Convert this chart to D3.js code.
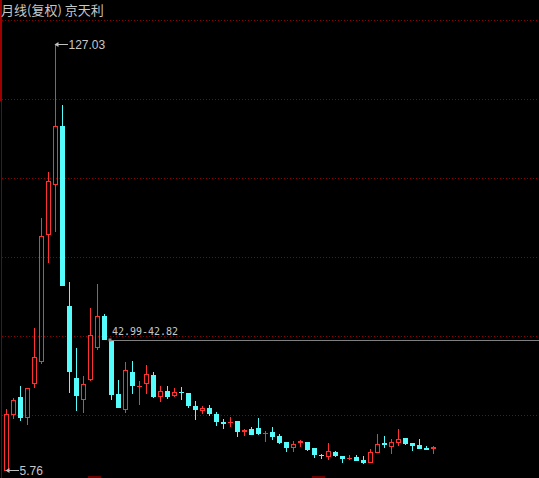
<!DOCTYPE html>
<html>
<head>
<meta charset="utf-8">
<script src="https://cdn.jsdelivr.net/npm/d3@7/dist/d3.min.js"></script>
<style>
  html, body { margin: 0; padding: 0; background: #000; overflow: hidden; }
  svg { display: block; }
</style>
</head>
<body>
<svg width="539" height="478"></svg>
<script>
// monthly candles, 京天利 (复权)
var opens  = [5.90, 21.77, 26.52, 20.83, 30.58, 36.84, 72.87, 87.09, 103.58, 52.40,
              31.92, 26.03, 31.64, 40.74, 49.55, 42.82, 27.37, 23.19, 33.63, 29.56,
              30.58, 32.77, 26.89, 28.31, 27.17, 28.03, 27.74, 23.96, 22.96, 23.48,
              21.77, 19.27, 19.30, 19.69, 16.71, 17.42, 17.70, 16.22, 16.57, 15.51,
              13.72, 12.30, 13.72, 13.72, 12.02, 10.00, 9.83, 10.88, 9.83, 9.17,
              9.54, 8.69, 8.12, 10.96, 13.30, 12.67, 13.81, 14.94, 13.52, 12.95,
              12.02, 12.05];
var highs  = [23.39, 26.52, 29.93, 29.20, 46.42, 77.70, 90.78, 127.03, 109.84, 59.50,
              40.74, 32.77, 52.11, 58.94, 50.40, 42.82, 31.64, 36.76, 37.04, 31.35,
              35.90, 33.91, 29.93, 29.93, 29.45, 29.73, 28.03, 25.75, 24.33, 24.61,
              22.62, 20.63, 21.20, 19.89, 17.79, 18.36, 20.92, 17.13, 18.27, 16.37,
              14.09, 14.29, 14.66, 14.00, 12.30, 10.68, 13.72, 11.45, 10.11, 10.31,
              10.31, 10.03, 12.10, 16.37, 15.80, 14.94, 17.79, 15.23, 13.52, 14.94,
              12.95, 12.95];
var lows   = [5.76, 20.63, 20.06, 18.84, 29.45, 36.19, 64.91, 73.72, 58.37, 27.94,
              22.82, 22.25, 31.35, 40.17, 42.99, 25.95, 23.76, 22.34, 27.74, 24.61,
              27.74, 26.43, 25.47, 26.32, 26.89, 26.03, 23.76, 20.35, 22.05, 21.49,
              18.64, 17.79, 18.36, 15.51, 15.80, 16.00, 16.08, 14.09, 14.66, 13.52,
              11.25, 11.25, 12.67, 11.53, 9.54, 9.26, 8.97, 9.83, 8.12, 8.89,
              8.69, 7.84, 8.12, 10.96, 12.39, 10.68, 12.95, 13.24, 11.53, 12.10,
              11.85, 10.68];
var closes = [21.68, 25.67, 20.83, 29.08, 37.89, 72.30, 87.94, 103.58, 58.37, 33.91,
              27.17, 30.21, 44.15, 49.55, 42.99, 27.37, 23.76, 34.20, 30.02, 29.70,
              33.06, 26.89, 28.31, 26.89, 28.03, 27.95, 24.33, 23.19, 23.39, 22.05,
              19.78, 19.20, 19.45, 16.94, 17.13, 16.08, 16.37, 16.42, 15.51, 13.81,
              12.39, 13.15, 14.00, 11.82, 10.40, 9.92, 11.16, 10.11, 9.26, 9.31,
              8.69, 8.12, 10.88, 13.24, 13.18, 13.81, 14.58, 13.52, 12.95, 12.10,
              11.85, 12.21];

var title = "月线(复权) 京天利";
var gapFrom = 14;            // gap between candle 14 close and candle 15 open
var axisMarks = [12.5, 44.5]; // partial time-axis marks at the bottom edge

var upColor = "#ff3232",
    downColor = "#54fcfc",
    gridColor = "#8c0000",
    textColor = "#c8c8c8";

var svg = d3.select("svg"),
    width = +svg.attr("width"),
    height = +svg.attr("height");

var data = opens.map(function (o, i) {
    return {i: i, o: o, h: highs[i], l: lows[i], c: closes[i]};
});

var x = d3.scaleLinear().domain([0, data.length - 1]).range([6.5, 6.5 + 7 * (data.length - 1)]);
var y = d3.scaleLinear()
    .domain([d3.min(lows), d3.max(highs)])
    .range([470, 43.5]);

svg.append("rect").attr("width", width).attr("height", height).attr("fill", "#000");

// grid rows
var gridTop = 20, gridStep = 79;
svg.append("g").selectAll("line")
    .data(d3.range(6))
    .enter().append("line")
    .attr("x1", 2).attr("x2", width)
    .attr("y1", function (d) { return gridTop + d * gridStep + 0.5; })
    .attr("y2", function (d) { return gridTop + d * gridStep + 0.5; })
    .attr("stroke", gridColor)
    .attr("stroke-dasharray", "1,2");

// left border
svg.append("rect").attr("x", 0).attr("y", 0).attr("width", 2).attr("height", 101).attr("fill", "#a00000");
svg.append("line").attr("x1", 1.5).attr("x2", 1.5).attr("y1", 101).attr("y2", height)
    .attr("stroke", "#800000");

// bottom marks
svg.append("g").selectAll("rect")
    .data(axisMarks)
    .enter().append("rect")
    .attr("x", function (d) { return Math.round(x(d)) - 6; })
    .attr("y", height - 2)
    .attr("width", 13).attr("height", 2)
    .attr("fill", "#6a0000");

function py(v) { return Math.round(y(v)) + 0.5; }

var candles = svg.append("g").attr("shape-rendering", "crispEdges");

var candle = candles.selectAll("g")
    .data(data)
    .enter().append("g");

candle.each(function (d) {
    var g = d3.select(this),
        cx = x(d.i),
        up = d.c >= d.o,
        col = up ? upColor : downColor,
        top = py(Math.max(d.o, d.c)),
        bot = py(Math.min(d.o, d.c));

    if (bot - top < 1.5) {
        // doji: a short bar with the wick through it
        g.append("line").attr("x1", cx).attr("x2", cx)
            .attr("y1", py(d.h)).attr("y2", py(d.l)).attr("stroke", col);
        g.append("rect").attr("x", cx - 2.5).attr("width", 5)
            .attr("y", top - 0.5).attr("height", Math.max(1, bot - top + 1))
            .attr("fill", col);
        return;
    }
    if (up) {
        g.append("line").attr("x1", cx).attr("x2", cx)
            .attr("y1", py(d.h)).attr("y2", top).attr("stroke", col);
        g.append("line").attr("x1", cx).attr("x2", cx)
            .attr("y1", bot).attr("y2", py(d.l)).attr("stroke", col);
        g.append("rect").attr("x", cx - 2).attr("width", 4)
            .attr("y", top).attr("height", bot - top)
            .attr("fill", "none").attr("stroke", col);
    } else {
        g.append("line").attr("x1", cx).attr("x2", cx)
            .attr("y1", py(d.h)).attr("y2", py(d.l)).attr("stroke", col);
        g.append("rect").attr("x", cx - 2.5).attr("width", 5)
            .attr("y", top - 0.5).attr("height", bot - top + 1)
            .attr("fill", col);
    }
});

// gap line
var gapHigh = closes[gapFrom], gapLow = opens[gapFrom + 1];
var gy = py(gapHigh) + 0.5;
svg.append("line")
    .attr("x1", x(gapFrom + 1) - 2).attr("x2", width)
    .attr("y1", gy).attr("y2", gy)
    .attr("stroke", "#808080").attr("shape-rendering", "crispEdges");
svg.append("rect")
    .attr("x", x(gapFrom + 1) - 3).attr("y", gy - 1.5)
    .attr("width", 3).attr("height", 3).attr("fill", "#909090");
svg.append("text")
    .attr("x", x(gapFrom + 1) + 0.5).attr("y", gy - 5.5)
    .attr("fill", textColor)
    .attr("font-family", "'DejaVu Sans Mono', monospace")
    .attr("font-size", 11)
    .attr("textLength", 66).attr("lengthAdjust", "spacingAndGlyphs")
    .text(d3.format(".2f")(gapHigh) + "-" + d3.format(".2f")(gapLow));

// high / low markers
function marker(i, v, ty) {
    var ay = py(v), x0 = x(i) - 1;
    svg.append("line").attr("x1", x0 + 2).attr("x2", x0 + 13)
        .attr("y1", ay).attr("y2", ay).attr("stroke", "#c0c0c0")
        .attr("shape-rendering", "crispEdges");
    svg.append("path")
        .attr("d", "M" + x0 + "," + ay + "L" + (x0 + 4) + "," + (ay - 2.5) + "L" + (x0 + 4) + "," + (ay + 2.5) + "Z")
        .attr("fill", "#c0c0c0");
    svg.append("text")
        .attr("x", x0 + 14).attr("y", ty)
        .attr("fill", textColor)
        .attr("font-family", "'Liberation Sans', Arial, sans-serif")
        .attr("font-size", 12)
        .text(d3.format(".2f")(v));
}
var hiIdx = d3.maxIndex(highs), loIdx = d3.minIndex(lows);
marker(hiIdx, highs[hiIdx], py(highs[hiIdx]) + 4);
marker(loIdx, lows[loIdx], py(lows[loIdx]) + 4);

// title
svg.append("text")
    .attr("x", 1).attr("y", 15)
    .attr("fill", textColor)
    .attr("font-family", "'Noto Sans CJK SC', sans-serif")
    .attr("font-size", 13)
    .text(title);
</script>
</body>
</html>
